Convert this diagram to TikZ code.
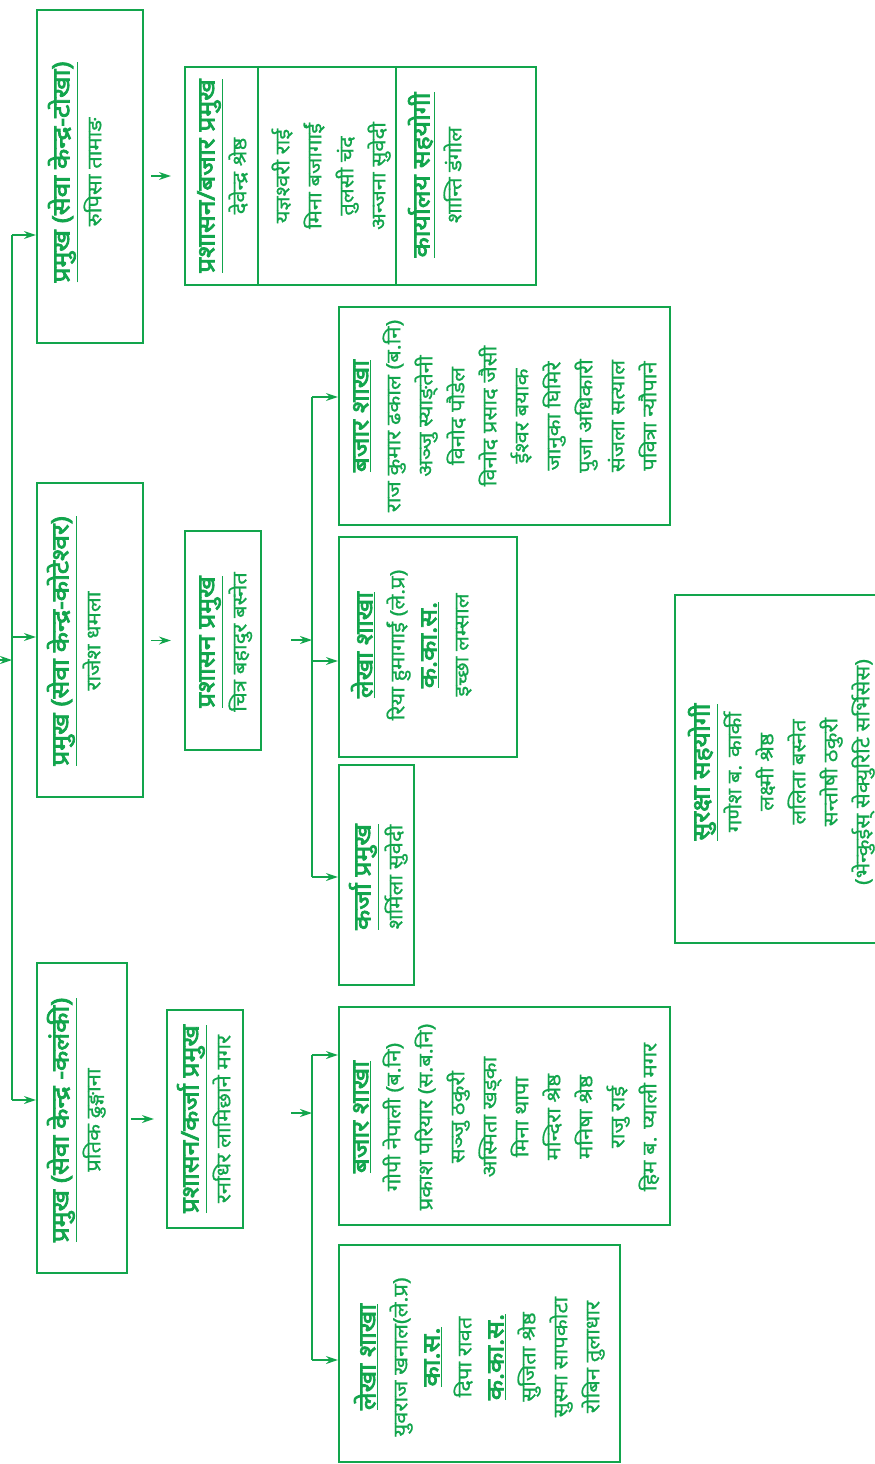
\documentclass[tikz,border=0pt]{standalone}
\usepackage{fontspec}
\setmainfont[Script=Devanagari,FakeBold=0.8]{Noto Sans}
\newfontfamily\devbold[Script=Devanagari,FakeBold=3]{Noto Sans}
\usetikzlibrary{arrows.meta}
\definecolor{og}{RGB}{18,165,76}
\newcommand{\ttl}[1]{\underline{\fontsize{24}{32}\devbold #1}}
\newcommand{\rbox}[1]{\rotatebox{90}{\scalebox{1.1}[1]{\fontsize{20}{32}\selectfont\begin{tabular}{@{}c@{}}#1\end{tabular}}}}
\begin{document}
\begin{tikzpicture}[x=1pt,y=-1pt,
  every node/.style={text=og},
  box/.style={draw=og, line width=2.2pt, inner sep=0pt},
  txt/.style={inner sep=0pt},
  ln/.style={draw=og, line width=1.4pt},
  arr/.style={draw=og, line width=1.4pt, -{Stealth[length=12pt,width=8pt]}}]
\useasboundingbox (0,0) rectangle (875,1464);
\clip (0,0) rectangle (875,1464);
% level 1 boxes
\node[box, minimum width=106pt, minimum height=333pt] (T1) at (90,176.5) {};
\node[txt] at (79,172) {\rbox{\ttl{प्रमुख (सेवा केन्द्र-टोखा)}\\ रुपिसा तामाङ}};
\node[box, minimum width=106pt, minimum height=314pt] (M1) at (90,640) {};
\node[txt] at (78,641) {\rbox{\ttl{प्रमुख (सेवा केन्द्र-कोटेश्वर)}\\ राजेश धमला}};
\node[box, minimum width=90pt, minimum height=310pt] (B1) at (82,1118) {};
\node[txt] at (78,1120) {\rbox{\ttl{प्रमुख (सेवा केन्द्र -कलंकी)}\\ प्रतिक ढुङ्गाना}};
% table
\node[box, minimum width=351pt, minimum height=218pt] (TT) at (360.5,176) {};
\draw[box] (TT.north west) ++(74,0) -- ++(0,218);
\draw[box] (TT.north west) ++(212,0) -- ++(0,218);
\node[txt] at (224,176) {\rbox{\ttl{प्रशासन/बजार प्रमुख}\\ देवेन्द्र श्रेष्ठ}};
\node[txt] at (331,176) {\rbox{यज्ञश्वरी राई\\ मिना बजागाईं\\ तुलसी चंद\\ अन्जना सुवेदी}};
\node[txt] at (439,175) {\rbox{\ttl{कार्यालय सहयोगी}\\ शान्ति डंगोल}};
% level 2
\node[box, minimum width=76pt, minimum height=219pt] (M2) at (223,640.5) {};
\node[txt] at (224,642) {\rbox{\ttl{प्रशासन प्रमुख}\\ चित्र बहादुर बस्नेत}};
\node[box, minimum width=76pt, minimum height=218pt] (B2) at (205,1119) {};
\node[txt] at (208,1119) {\rbox{\ttl{प्रशासन/कर्जा प्रमुख}\\ रनधिर लामिछाने मगर}};
% level 3 middle
\node[box, minimum width=331pt, minimum height=218pt] (M3) at (504.5,416) {};
\node[txt] at (506,416) {\rbox{\ttl{बजार शाखा}\\ राज कुमार ढकाल (ब.नि)\\ अञ्जु स्याङ्तेनी\\ विनोद पौडेल\\ विनोद प्रसाद जैसी\\ ईश्वर बयाक\\ जानुका घिमिरे\\ पुजा अधिकारी\\ संजला सत्याल\\ पवित्रा न्यौपाने}};
\node[box, minimum width=178pt, minimum height=220pt] (M4) at (428,647) {};
\node[txt] at (414,645) {\rbox{\ttl{लेखा शाखा}\\ रिया हुमागाईं (ले.प्र)\\ \ttl{क.का.स.}\\ इच्छा लम्साल}};
\node[box, minimum width=75pt, minimum height=220pt] (M5) at (376.5,875) {};
\node[txt] at (380,877) {\rbox{\ttl{कर्जा प्रमुख}\\ शर्मिला सुवेदी}};
% level 3 bottom
\node[box, minimum width=331pt, minimum height=218pt] (B3) at (504.5,1116) {};
\node[txt] at (506,1117) {\rbox{\ttl{बजार शाखा}\\ गोपी नेपाली (ब.नि)\\ प्रकाश परियार (स.ब.नि)\\ सञ्जु ठकुरी\\ अस्मिता खड्का\\ मिना थापा\\ मन्दिरा श्रेष्ठ\\ मनिषा श्रेष्ठ\\ राजु राई\\ हिम ब. प्याली मगर}};
\node[box, minimum width=281pt, minimum height=217pt] (B4) at (479.5,1353.5) {};
\node[txt] at (481,1357) {\rbox{\ttl{लेखा शाखा}\\ युवराज खनाल(ले.प्र)\\ \ttl{का.स.}\\ दिपा रावत\\ \ttl{क.का.स.}\\ सुजिता श्रेष्ठ\\ सुस्मा सापकोटा\\ रोबिन तुलाधार}};
% security
\node[box, minimum width=210pt, minimum height=348pt] (S) at (780,769) {};
\node[txt] at (783,772) {\rbox{\ttl{सुरक्षा सहयोगी}\\ गणेश ब. कार्की\\ लक्ष्मी श्रेष्ठ\\ ललिता बस्नेत\\ सन्तोषी ठकुरी\\ (भेन्कुईस् सेक्युरिटि सर्भिसेस)}};
% trunk 1
\coordinate (in) at (-4,660);
\coordinate (ja) at (12,235);
\coordinate (jm) at (12,637);
\coordinate (jb) at (12,1100);
\coordinate (ji) at (12,660);
\draw[ln] (ja) -- (jb);
\draw[arr] (in) -- (ji);
\draw[arr] (ja) -- (ja -| T1.west);
\draw[arr] (jm) -- (jm -| M1.west);
\draw[arr] (jb) -- (jb -| B1.west);
% level 1 -> level 2
\draw[arr, shorten <=7pt, shorten >=13pt] (T1.east |- TT.west) -- (TT.west);
\draw[arr, shorten <=7pt, shorten >=13pt] (M1.east |- M2.west) -- (M2.west);
\draw[arr, shorten <=3pt, shorten >=12pt] (B1.east |- B2.west) -- (B2.west);
% trunk 2
\coordinate (ka) at (312,397);
\coordinate (kb) at (312,661);
\coordinate (kc) at (312,877);
\coordinate (km) at (312,640);
\draw[ln] (ka) -- (kc);
\draw[arr, shorten <=29pt] (M2.east |- km) -- (km);
\draw[arr] (ka) -- (ka -| M3.west);
\draw[arr] (kb) -- (kb -| M4.west);
\draw[arr] (kc) -- (kc -| M5.west);
% trunk 3
\coordinate (la) at (312,1055);
\coordinate (lb) at (312,1360);
\coordinate (lm) at (312,1113);
\draw[ln] (la) -- (lb);
\draw[arr, shorten <=47pt] (B2.east |- lm) -- (lm);
\draw[arr] (la) -- (la -| B3.west);
\draw[arr] (lb) -- (lb -| B4.west);
\end{tikzpicture}
\end{document}
